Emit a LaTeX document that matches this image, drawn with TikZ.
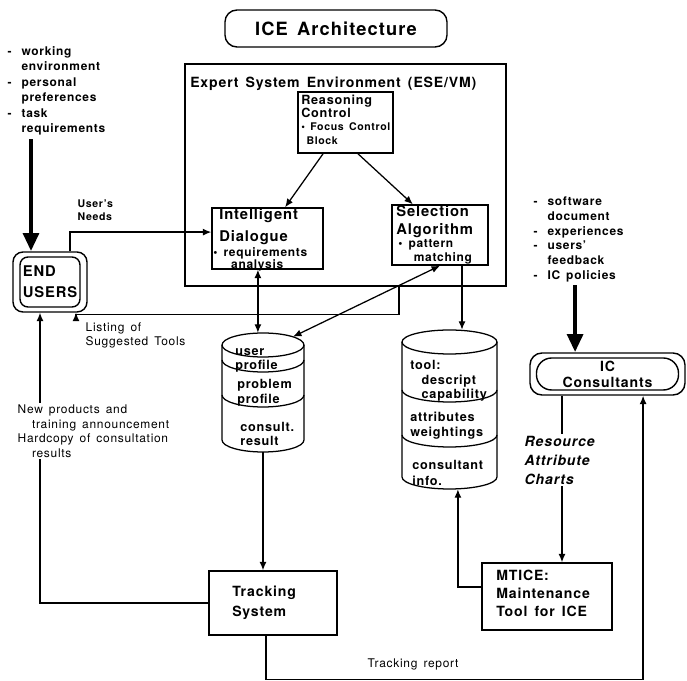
\documentclass[tikz,border=0pt]{standalone}
\usepackage{fontspec}
\setmainfont{TeX Gyre Heros}[LetterSpace=6,WordSpace=1.5]
\usetikzlibrary{arrows.meta}

\newcommand{\fs}[2]{\fontsize{#1}{#2}\selectfont}

\begin{document}
\begin{tikzpicture}[x=0.025cm,y=-0.025cm,
    box/.style={draw,line width=1pt,inner sep=0pt},
    link/.style={line width=0.9pt},
    arr/.style={link,-{Latex[length=6pt,width=5pt]}},
    darr/.style={link,{Latex[length=6pt,width=5pt]}-{Latex[length=6pt,width=5pt]}},
    fat/.style={line width=3.4pt,-{Triangle[length=13pt,width=11pt]}},
    txt/.style={align=left,inner sep=0pt},
    note/.style={align=left,inner sep=1pt,font=\fs{8.5}{10.5}}
  ]
\useasboundingbox (0,0) rectangle (687,681);

% title
\node[box,rounded corners=0.3cm,minimum width=5.55cm,minimum height=0.925cm,
  font=\fs{13}{15}\bfseries] (title) at (336,28.5) {ICE Architecture};

% expert system environment
\node[box,minimum width=8.025cm,minimum height=5.55cm] (ese) at (345.5,175) {};
\node[txt,anchor=west,font=\fs{10}{12}\bfseries] (esetitle) at (190,84)
  {Expert System Environment (ESE/VM)};

\node[box,minimum width=2.375cm,minimum height=1.525cm] (reason) at (345.5,122.5) {};
\node[txt,anchor=west,font=\fs{9}{9.5}\bfseries] (reasonT) at (301,106.5) {Reasoning\\Control};
\node[txt,anchor=west,font=\fs{7.5}{10}\bfseries] (reasonB) at (301,134)
  {• Focus Control\\\hspace*{0.5em}Block};

\node[box,minimum width=2.775cm,minimum height=1.525cm] (dialog) at (267.5,238.5) {};
\node[txt,anchor=west,font=\fs{10.5}{15.5}\bfseries] (dialogT) at (219,227) {Intelligent\\Dialogue};
\node[txt,anchor=west,font=\fs{8.5}{8.5}\bfseries] (dialogB) at (213,259)
  {• requirements\\\hspace*{1.5em}analysis};

\node[box,minimum width=2.4cm,minimum height=1.5cm] (select) at (440,235) {};
\node[txt,anchor=west,font=\fs{10.5}{12.8}\bfseries] (selectT) at (396,222) {Selection\\Algorithm};
\node[txt,anchor=west,font=\fs{8.5}{10}\bfseries] (selectB) at (398,252)
  {• pattern\\\hspace*{1.3em}matching};

% end users
\node[box,rounded corners=0.25cm,minimum width=1.85cm,minimum height=1.5cm] (users) at (50,282) {};
\node[box,rounded corners=0.2cm,minimum width=1.5cm,minimum height=1.25cm,align=left,
  font=\fs{10.5}{15}\bfseries] (usersin) at (50,282) {END\\USERS};

% databases
\node[inner sep=0pt,minimum width=2.05cm,minimum height=2.975cm] (prof) at (263,392.5) {};
\draw[link] (263,345) ellipse [x radius=41,y radius=12];
\draw[link] (222,345) -- (222,440) arc[start angle=180,end angle=0,x radius=41,y radius=12] -- (304,345);
\draw[link] (304,360) arc[start angle=0,end angle=180,x radius=41,y radius=12];
\draw[link] (304,395) arc[start angle=0,end angle=180,x radius=41,y radius=12];
\node[txt,anchor=west,font=\fs{9}{10.5}\bfseries] (profA) at (235,360.5) {user\\profile};
\node[txt,anchor=west,font=\fs{9}{10.5}\bfseries] (profB) at (237,392.5) {problem\\profile};
\node[txt,anchor=west,font=\fs{9}{10}\bfseries] (profC) at (240,434) {consult.\\result};

\node[inner sep=0pt,minimum width=2.375cm,minimum height=3.975cm] (tool) at (449.5,409.5) {};
\draw[link] (449.5,342) ellipse [x radius=47.5,y radius=12];
\draw[link] (402,342) -- (402,477) arc[start angle=180,end angle=0,x radius=47.5,y radius=12] -- (497,342);
\draw[link] (497,390) arc[start angle=0,end angle=180,x radius=47.5,y radius=12];
\draw[link] (497,435) arc[start angle=0,end angle=180,x radius=47.5,y radius=12];
\node[txt,anchor=west,font=\fs{9}{10.5}\bfseries] (toolA) at (410,381)
  {tool:\\\hspace*{0.9em}descript\\\hspace*{0.9em}capability};
\node[txt,anchor=west,font=\fs{9}{10.5}\bfseries] (toolB) at (410,425.5) {attributes\\weightings};
\node[txt,anchor=west,font=\fs{9}{11.5}\bfseries] (toolC) at (412,473) {consultant\\info.};

% lower boxes
\node[box,minimum width=3.2cm,minimum height=1.6cm] (track) at (273,603) {};
\node[txt,anchor=west,font=\fs{10}{14}\bfseries] (trackT) at (232,603) {Tracking\\System};

\node[box,minimum width=3.25cm,minimum height=1.675cm] (mtice) at (547,596.5) {};
\node[txt,anchor=west,font=\fs{10}{13}\bfseries] (mticeT) at (496,593.5) {MTICE:\\Maintenance\\Tool for ICE};

\node[box,rounded corners=0.3cm,minimum width=3.875cm,minimum height=1.05cm] (ic) at (607.5,374) {};
\node[box,rounded corners=0.38cm,minimum width=3.55cm,minimum height=0.8cm,align=center,
  font=\fs{10}{11.3}\bfseries] (icin) at (607.5,374) {IC\\Consultants};

% inputs
\node[note,anchor=north west,font=\fs{8.5}{11}\bfseries] (needs) at (6,43)
  {\begin{tabular}{@{}l@{\hspace{7pt}}l@{}}
   -&working\\ &environment\\ -&personal\\ &preferences\\ -&task\\ &requirements
   \end{tabular}};
\node[note,anchor=north west,font=\fs{8.5}{10.4}\bfseries] (feeds) at (532,194)
  {\begin{tabular}{@{}l@{\hspace{7pt}}l@{}}
   -&software\\ &document\\ -&experiences\\ -&users'\\ &feedback\\ -&IC policies
   \end{tabular}};

\draw[fat] ([xshift=-0.475cm]users.north |- needs.south) -- ([xshift=-0.475cm]users.north);
\draw[fat] ([xshift=-0.81cm]ic.north |- feeds.south) -- ([xshift=-0.81cm]ic.north);

% connectors
\draw[arr] ([xshift=-0.56cm]reason.south) -- ([xshift=0.44cm]dialog.north);
\draw[arr] ([xshift=0.31cm]reason.south) -- ([xshift=-0.68cm]select.north);
\draw[arr] ([xshift=0.5cm]users.north) |- ([yshift=0.16cm]dialog.west);
\node[note,anchor=west,font=\fs{7.5}{9}\bfseries] (needsL) at (76,210) {User's\\Needs};

\draw[darr] ([xshift=-0.24cm]dialog.south) -- ([xshift=-0.24cm]dialog.south |- prof.north);
\draw[darr] (select.south) -- ([xshift=0.75cm,yshift=-0.1cm]prof.north);
\draw[arr] ([xshift=0.55cm]select.south) -- ([xshift=0.55cm]select.south |- tool.north);

\draw[arr] ([xshift=1.34cm]ese.south) -- ++(0,28) -| ([xshift=0.65cm]users.south);
\node[note,anchor=west] (listL) at (84,335.5) {Listing of\\Suggested Tools};

\draw[arr] (prof.south) -- (prof.south |- track.north);
\draw[arr] (track.west) -| ([xshift=-0.25cm]users.south);
\node[note,anchor=north west,fill=white] (newsL) at (16,403)
  {New products and\\\hspace*{1.2em}training announcement\\Hardcopy of consultation\\\hspace*{1.2em}results};

\draw[arr] ([xshift=-0.175cm]track.south) -- ++(0,44) -| ([xshift=0.89cm]ic.south);
\node[note,anchor=west] (trackL) at (366,664) {Tracking report};

\draw[arr] ([yshift=0.24cm]mtice.west) -| ([xshift=0.21cm]tool.south);
\draw[arr] ([xshift=0.375cm]mtice.north |- ic.south) -- ([xshift=0.375cm]mtice.north);
\node[note,anchor=west,fill=white,font=\fs{10}{13.5}\bfseries\itshape] (chartsL) at (523,460)
  {Resource\\Attribute\\Charts};
\end{tikzpicture}
\end{document}
